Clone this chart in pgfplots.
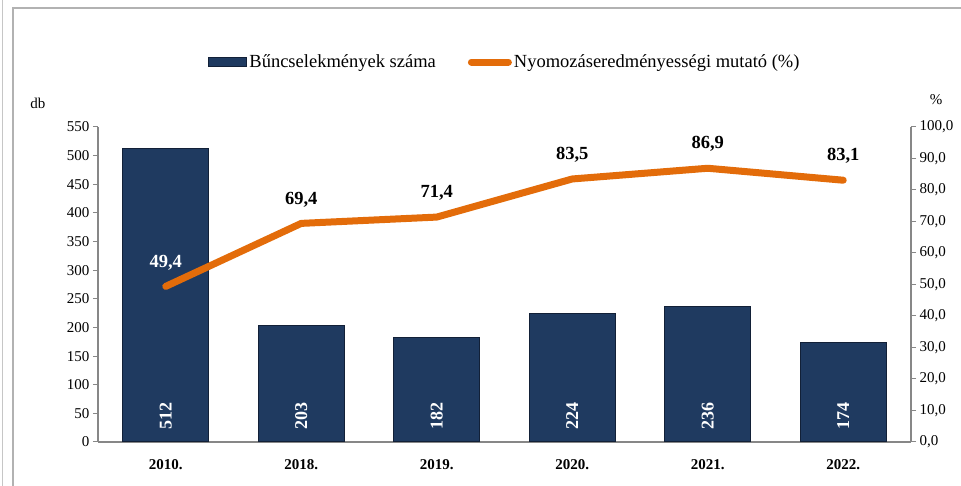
\documentclass[border=0pt]{standalone}
\usepackage{pgfplots}
\pgfplotsset{compat=1.18}
\usepackage{fontspec}
\setmainfont{Liberation Serif}
\definecolor{navy}{RGB}{31,58,96}
\definecolor{navyd}{RGB}{18,32,55}
\definecolor{orng}{RGB}{227,108,10}
\definecolor{axgray}{RGB}{135,135,135}
\begin{document}
\begin{tikzpicture}[x=1pt,y=1pt]
\path[use as bounding box] (0,0) rectangle (961,486);
\draw[gray!45, line width=1pt] (2,0) -- (2,486);
\draw[gray!60, line width=1.3pt] (13,0) -- (13,478) -- (961,478);
\node[font=\fontsize{15}{15}\selectfont] at (38,383) {db};
\node[font=\fontsize{15}{15}\selectfont] at (936,386) {\%};
\begin{axis}[
  at={(98pt,44pt)}, anchor=south west,
  width=813pt, height=315pt, scale only axis,
  xmin=-0.5, xmax=5.5, ymin=0, ymax=550,
  xtick={0,...,5},
  xticklabels={2010.,2018.,2019.,2020.,2021.,2022.},
  ytick={0,50,...,550},
  axis y line*=left, axis x line*=bottom,
  axis line style={axgray, line width=1.5pt, -},
  xtick style={draw=none},
  ytick style={axgray, line width=1pt},
  tick align=outside, major tick length=5pt,
  x tick label style={font=\bfseries\fontsize{15}{15}\selectfont, yshift=-9pt},
  y tick label style={font=\fontsize{15}{15}\selectfont},
  /pgf/number format/assume math mode=true,
  legend style={at={(0.5006,1.206)}, anchor=center, draw=none, fill=none,
    font=\fontsize{18.5}{18.5}\selectfont,
    /tikz/every even column/.append style={column sep=30pt}},
  legend columns=2,
  visualization depends on=y \as \rawy,
]
\addplot[ybar, bar width=86pt, fill=navy, draw=navyd, line width=1pt,
  legend image code/.code={\fill[navy, draw=navyd] (0pt,-4.5pt) rectangle (38pt,4.5pt);},
  nodes near coords={\pgfmathprintnumber{\pgfplotspointmeta}},
  every node near coord/.append style={white, font=\bfseries\fontsize{18}{18}\selectfont,
    shift={(axis direction cs:0,-\rawy)}, yshift=26pt, anchor=center, rotate=90}]
  coordinates {(0,512) (1,203) (2,182) (3,224) (4,236) (5,174)};
\addlegendentry{Bűncselekmények száma}
\addlegendimage{orng, line width=7pt, line cap=round,
  legend image code/.code={\draw[orng, line width=7pt, line cap=round] (3pt,0pt) -- (40pt,0pt);}}
\addlegendentry{Nyomozáseredményességi mutató (\%)}
\end{axis}
\begin{axis}[
  at={(98pt,44pt)}, anchor=south west,
  width=813pt, height=315pt, scale only axis,
  xmin=-0.5, xmax=5.5, ymin=0, ymax=100,
  axis y line*=right, axis x line=none,
  axis line style={axgray, line width=1.5pt, -},
  ytick={0,10,...,100},
  ytick style={axgray, line width=1pt},
  tick align=outside, major tick length=5pt,
  y tick label style={font=\fontsize{15}{15}\selectfont},
  yticklabel style={/pgf/number format/.cd, fixed, fixed zerofill, precision=1, use comma},
  /pgf/number format/assume math mode=true,
]
\addplot[orng, line width=7pt, line cap=round, line join=round, mark=none]
  coordinates {(0,49.4) (1,69.4) (2,71.4) (3,83.5) (4,86.9) (5,83.1)};
\addplot[draw=none, mark=none, forget plot,
  nodes near coords={\pgfmathprintnumber[fixed,fixed zerofill,precision=1,use comma]{\pgfplotspointmeta}},
  every node near coord/.append style={black, font=\bfseries\fontsize{18.5}{18.5}\selectfont, anchor=center, yshift=24pt}]
  coordinates {(1,69.4) (2,71.4) (3,83.5) (4,86.9) (5,83.1)};
\addplot[draw=none, mark=none, forget plot,
  nodes near coords={\pgfmathprintnumber[fixed,fixed zerofill,precision=1,use comma]{\pgfplotspointmeta}},
  every node near coord/.append style={white, font=\bfseries\fontsize{18.5}{18.5}\selectfont, anchor=center, yshift=24pt}]
  coordinates {(0,49.4)};
\end{axis}
\end{tikzpicture}
\end{document}
